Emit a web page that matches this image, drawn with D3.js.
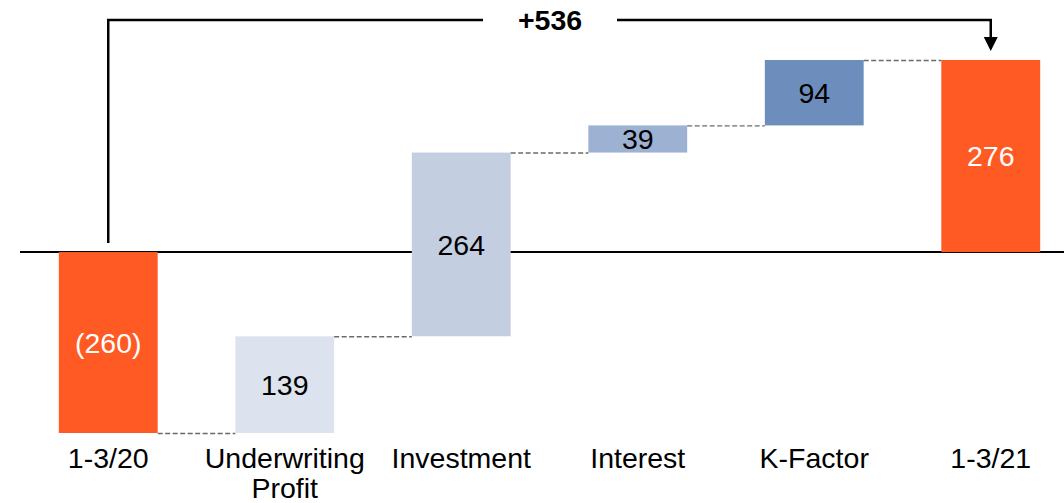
<!DOCTYPE html>
<html><head><meta charset="utf-8">
<script src="https://cdn.jsdelivr.net/npm/d3@7"></script>
<style>body{margin:0;background:#fff}svg{display:block}text{font-family:"Liberation Sans",Arial,sans-serif}</style>
</head><body><svg id="c" width="1064" height="503"></svg>
<script>
const categories = ["1-3/20", "Underwriting Profit", "Investment", "Interest", "K-Factor", "1-3/21"];
const values = [-260, 139, 264, 39, 94, 276];
const kinds = ["total", "delta", "delta", "delta", "delta", "total"];
const valueLabels = ["(260)", "139", "264", "39", "94", "276"];
const colors = ["#FF5A24", "#DDE3EE", "#C4CEE1", "#9DB1D2", "#6D8EBC", "#FF5A24"];
const changeLabel = "+536";

const svg = d3.select("#c");
const x = d3.scaleBand().domain(categories).range([20, 1079]).paddingInner(0.44).paddingOuter(0.22);
const y = d3.scaleLinear().domain([-260, 276]).range([433, 60]);
const FS = 28.5;

let run = 0;
const bars = categories.map((c, i) => {
  let s, e;
  if (kinds[i] === "total") { s = 0; e = values[i]; run = values[i]; }
  else { s = run; e = run + values[i]; run = e; }
  return {c, s, e, i};
});

svg.append("line").attr("x1", 20).attr("x2", 1064).attr("y1", y(0)).attr("y2", y(0))
  .attr("stroke", "#000").attr("stroke-width", 2);

svg.selectAll("rect.bar").data(bars).join("rect")
  .attr("x", d => x(d.c)).attr("width", x.bandwidth())
  .attr("y", d => y(Math.max(d.s, d.e))).attr("height", d => Math.abs(y(d.s) - y(d.e)))
  .attr("fill", (d, i) => colors[i]);

for (let i = 0; i < bars.length - 1; i++) {
  const lv = bars[i].e;
  svg.append("line")
    .attr("x1", x(bars[i].c) + x.bandwidth()).attr("x2", x(bars[i + 1].c))
    .attr("y1", y(lv) + 0.5).attr("y2", y(lv) + 0.5)
    .attr("stroke", "#6a6a6a").attr("stroke-width", 1.4).attr("stroke-dasharray", "5,2.5");
}

svg.selectAll("text.val").data(bars).join("text")
  .attr("x", d => x(d.c) + x.bandwidth() / 2)
  .attr("y", d => (y(d.s) + y(d.e)) / 2)
  .attr("dy", "0.36em").attr("text-anchor", "middle").attr("font-size", FS)
  .attr("fill", d => kinds[d.i] === "total" ? "#fff" : "#000")
  .text(d => valueLabels[d.i]);

const axis = d3.axisBottom(x).tickSize(0).tickPadding(0);
const g = svg.append("g").attr("transform", `translate(0,${y(-260)})`).call(axis);
g.select(".domain").remove();
g.selectAll(".tick text").attr("font-size", FS).attr("fill", "#000").attr("font-family", null)
  .attr("y", 0).attr("dy", null).text(null)
  .each(function(d) {
    const words = d === "Underwriting Profit" ? ["Underwriting", "Profit"] : [d];
    const t = d3.select(this);
    words.forEach((w, k) => t.append("tspan").attr("x", 0).attr("y", 35 + k * 30).text(w));
  });

const bx0 = x(categories[0]) + x.bandwidth() / 2;
const bx1 = x(categories[5]) + x.bandwidth() / 2;
const bTop = 20;
const p1 = svg.append("path").attr("d", `M${bx0},${y(0) - 9} V${bTop} H483`);
const p2 = svg.append("path").attr("d", `M617,${bTop} H${bx1} V38`);
[p1, p2].forEach(p => p.attr("stroke", "#000").attr("stroke-width", 2.5).attr("fill", "none"));
svg.append("path").attr("d", `M${bx1 - 7},37 L${bx1 + 7},37 L${bx1},51 Z`).attr("fill", "#000");
svg.append("text").attr("x", 550).attr("y", bTop).attr("dy", "0.36em")
  .attr("text-anchor", "middle").attr("font-size", FS).attr("font-weight", "bold").text(changeLabel);
</script></body></html>
